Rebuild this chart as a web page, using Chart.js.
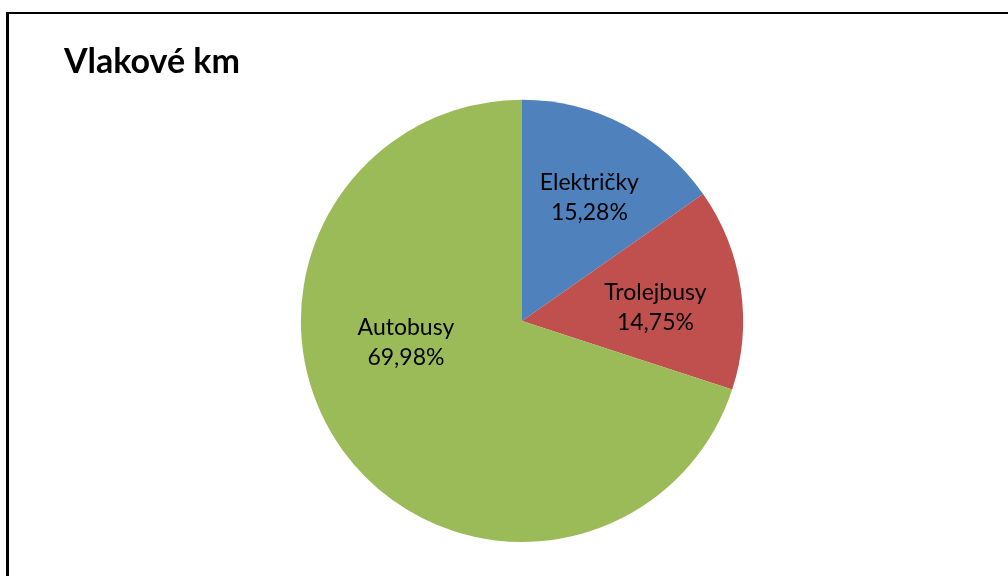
<!DOCTYPE html>
<html>
<head>
<meta charset="utf-8">
<script src="https://cdn.jsdelivr.net/npm/chart.js@4.4.1/dist/chart.umd.min.js"></script>
<style>
    html, body { margin: 0; padding: 0; background: #fff; overflow: hidden; }
    #frame {
        position: absolute;
        left: 6px;
        top: 12px;
        width: 1020px;
        height: 600px;
        border-left: 3px solid #000;
        border-top: 2px solid #000;
    }
    #wrap { position: absolute; left: 0; top: 0; width: 1008px; height: 576px; }
</style>
</head>
<body>
<div id="frame"></div>
<div id="wrap"><canvas id="pieChart"></canvas></div>
<script>
// Podíl vlakových km podle druhu dopravy
const categories = ['Električky', 'Trolejbusy', 'Autobusy'];
const shares = [15.28, 14.75, 69.98];
const sliceColors = ['#4F81BD', '#C0504D', '#9BBB59'];

// Draws "name / percentage" inside each slice
const sliceLabels = {
    id: 'sliceLabels',
    afterDatasetsDraw(chart, args, opts) {
        const ctx = chart.ctx;
        const meta = chart.getDatasetMeta(0);
        ctx.save();
        ctx.font = opts.font;
        ctx.fillStyle = '#000';
        ctx.textAlign = 'center';
        ctx.textBaseline = 'middle';
        meta.data.forEach((arc, i) => {
            const p = arc.getProps(['x', 'y', 'startAngle', 'endAngle', 'outerRadius']);
            const mid = (p.startAngle + p.endAngle) / 2 + (opts.angleShift[i] || 0);
            const d = p.outerRadius * opts.distance[i];
            const cx = p.x + Math.cos(mid) * d;
            const cy = p.y + Math.sin(mid) * d + opts.dy;
            const pct = chart.data.datasets[0].data[i].toFixed(2).replace('.', ',') + '%';
            ctx.fillText(chart.data.labels[i], cx, cy - opts.lineGap / 2);
            ctx.fillText(pct, cx, cy + opts.lineGap / 2);
        });
        ctx.restore();
    }
};

new Chart(document.getElementById('pieChart'), {
    type: 'pie',
    data: {
        labels: categories,
        datasets: [{
            data: shares,
            backgroundColor: sliceColors,
            borderWidth: 0
        }]
    },
    options: {
        responsive: true,
        maintainAspectRatio: false,
        animation: false,
        layout: { padding: { left: 64, right: 28, top: 42, bottom: 34 } },
        plugins: {
            legend: { display: false },
            tooltip: { enabled: false },
            title: {
                display: true,
                text: 'Vlakové km',
                align: 'start',
                color: '#000',
                font: { family: 'Lato', size: 34, weight: 'bold' },
                padding: { top: 0, bottom: 17 }
            },
            sliceLabels: {
                font: '23px Lato',
                lineGap: 30,
                dy: 6,
                distance: [0.66, 0.61, 0.53],
                angleShift: [0, 0, 0.49]
            }
        }
    },
    plugins: [sliceLabels]
});
</script>
</body>
</html>
